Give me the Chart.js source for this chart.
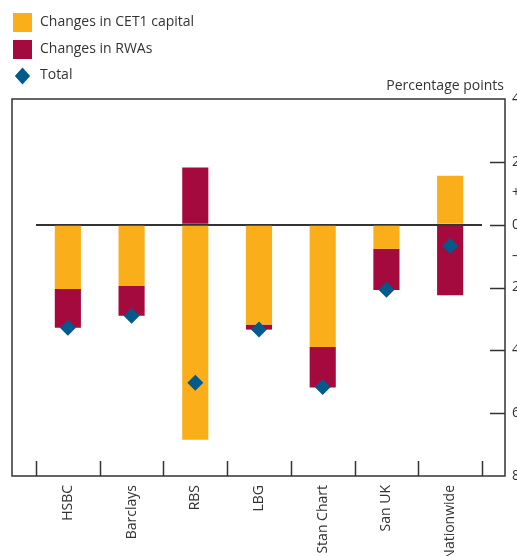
<!DOCTYPE html>
<html>
<head>
<meta charset="utf-8">
<script src="https://cdn.jsdelivr.net/npm/chart.js@4"></script>
<style>
  html, body { margin: 0; padding: 0; background: #fff; overflow: hidden; }
  #wrap { width: 517px; height: 556px; }
</style>
</head>
<body>
<div id="wrap"><canvas id="chart" width="517" height="556"></canvas></div>
<script>
const banks = ['HSBC', 'Barclays', 'RBS', 'LBG', 'Stan Chart', 'San UK', 'Nationwide'];
const cet1Changes = [-2.05, -1.95, -6.85, -3.18, -3.89, -0.77, 1.56];
const rwaChanges = [-1.23, -0.95, 1.82, -0.16, -1.29, -1.31, -2.25];
const totals = [-3.28, -2.9, -5.03, -3.34, -5.17, -2.07, -0.68];
const yMin = -8;
const yMax = 4;

const ORANGE = '#f9ae1a';
const CRIMSON = '#a50a3e';
const BLUE = '#005a8c';
const INK = '#333333';
const FONT = '"Open Sans", sans-serif';

function yLabel(v) {
    if (v === 1) return '+';
    if (v === -1) return '\u2013';
    if (v % 2 === 0) return String(Math.abs(v));
    return '';
}

function drawDiamond(ctx, x, y, r) {
    ctx.beginPath();
    ctx.moveTo(x, y - r);
    ctx.lineTo(x + r * 0.9, y);
    ctx.lineTo(x, y + r);
    ctx.lineTo(x - r * 0.9, y);
    ctx.closePath();
    ctx.fill();
}

// frame, inner tick marks, legend and units label
const decorations = {
    id: 'decorations',
    afterDraw(chart) {
        const ctx = chart.ctx;
        const area = chart.chartArea;
        const x = chart.scales.x;
        const y = chart.scales.y;
        const left = area.left - 24;
        const right = area.right + 23;

        ctx.save();
        ctx.strokeStyle = INK;
        ctx.lineWidth = 1.5;
        ctx.strokeRect(left, area.top, right - left, area.bottom - area.top);

        // category boundary marks along the bottom
        ctx.beginPath();
        for (let i = 0; i <= banks.length; i++) {
            const px = Math.round(x.getPixelForValue(i - 0.5)) + 0.5;
            ctx.moveTo(px, area.bottom);
            ctx.lineTo(px, area.bottom - 15);
        }
        // marks on the right value axis
        for (let v = yMin + 2; v < yMax; v += 2) {
            const py = Math.round(y.getPixelForValue(v)) + 0.5;
            ctx.moveTo(right - 15, py);
            ctx.lineTo(right, py);
        }
        ctx.stroke();

        // legend
        ctx.fillStyle = ORANGE;
        ctx.fillRect(13, 13, 19, 19);
        ctx.fillStyle = CRIMSON;
        ctx.fillRect(13, 40, 19, 19);
        ctx.fillStyle = BLUE;
        drawDiamond(ctx, 22.5, 76, 8.5);

        ctx.fillStyle = INK;
        ctx.font = '14px ' + FONT;
        ctx.textBaseline = 'middle';
        ctx.textAlign = 'left';
        ctx.fillText('Changes in CET1 capital', 40, 22);
        ctx.fillText('Changes in RWAs', 40, 49);
        ctx.fillText('Total', 40, 75);

        ctx.textAlign = 'right';
        ctx.fillText('Percentage points', right - 1, 86);
        ctx.restore();
    }
};

const ctx = document.getElementById('chart').getContext('2d');
new Chart(ctx, {
    type: 'bar',
    data: {
        labels: banks,
        datasets: [{
            type: 'line',
            label: 'Total',
            data: totals,
            showLine: false,
            stack: 'total',
            pointStyle: 'rectRot',
            pointRadius: 8,
            pointBackgroundColor: BLUE,
            pointBorderColor: BLUE,
            pointBorderWidth: 0
        }, {
            label: 'Changes in CET1 capital',
            data: cet1Changes,
            backgroundColor: ORANGE,
            stack: 'bars',
            barPercentage: 0.41,
            categoryPercentage: 1
        }, {
            label: 'Changes in RWAs',
            data: rwaChanges,
            backgroundColor: CRIMSON,
            stack: 'bars',
            barPercentage: 0.41,
            categoryPercentage: 1
        }]
    },
    options: {
        responsive: false,
        animation: false,
        layout: {
            padding: { left: 36, top: 99, right: 0, bottom: 0 }
        },
        plugins: {
            legend: { display: false },
            tooltip: { enabled: false }
        },
        scales: {
            x: {
                stacked: true,
                offset: true,
                grid: { display: false, drawTicks: false },
                border: { display: false },
                ticks: {
                    autoSkip: false,
                    maxRotation: 90,
                    minRotation: 90,
                    padding: 9,
                    color: INK,
                    font: { family: FONT, size: 14 }
                },
                afterFit(scale) { scale.height = 80; }
            },
            y: {
                position: 'right',
                stacked: true,
                min: yMin,
                max: yMax,
                grid: {
                    drawTicks: false,
                    lineWidth: 2,
                    color: (c) => c.tick && c.tick.value === 0 ? INK : 'rgba(0,0,0,0)'
                },
                border: { display: false },
                ticks: {
                    stepSize: 1,
                    autoSkip: false,
                    padding: 30,
                    color: INK,
                    font: { family: FONT, size: 14 },
                    callback: (v) => yLabel(v)
                },
                afterFit(scale) { scale.width = 35; }
            }
        }
    },
    plugins: [decorations]
});
</script>
</body>
</html>
